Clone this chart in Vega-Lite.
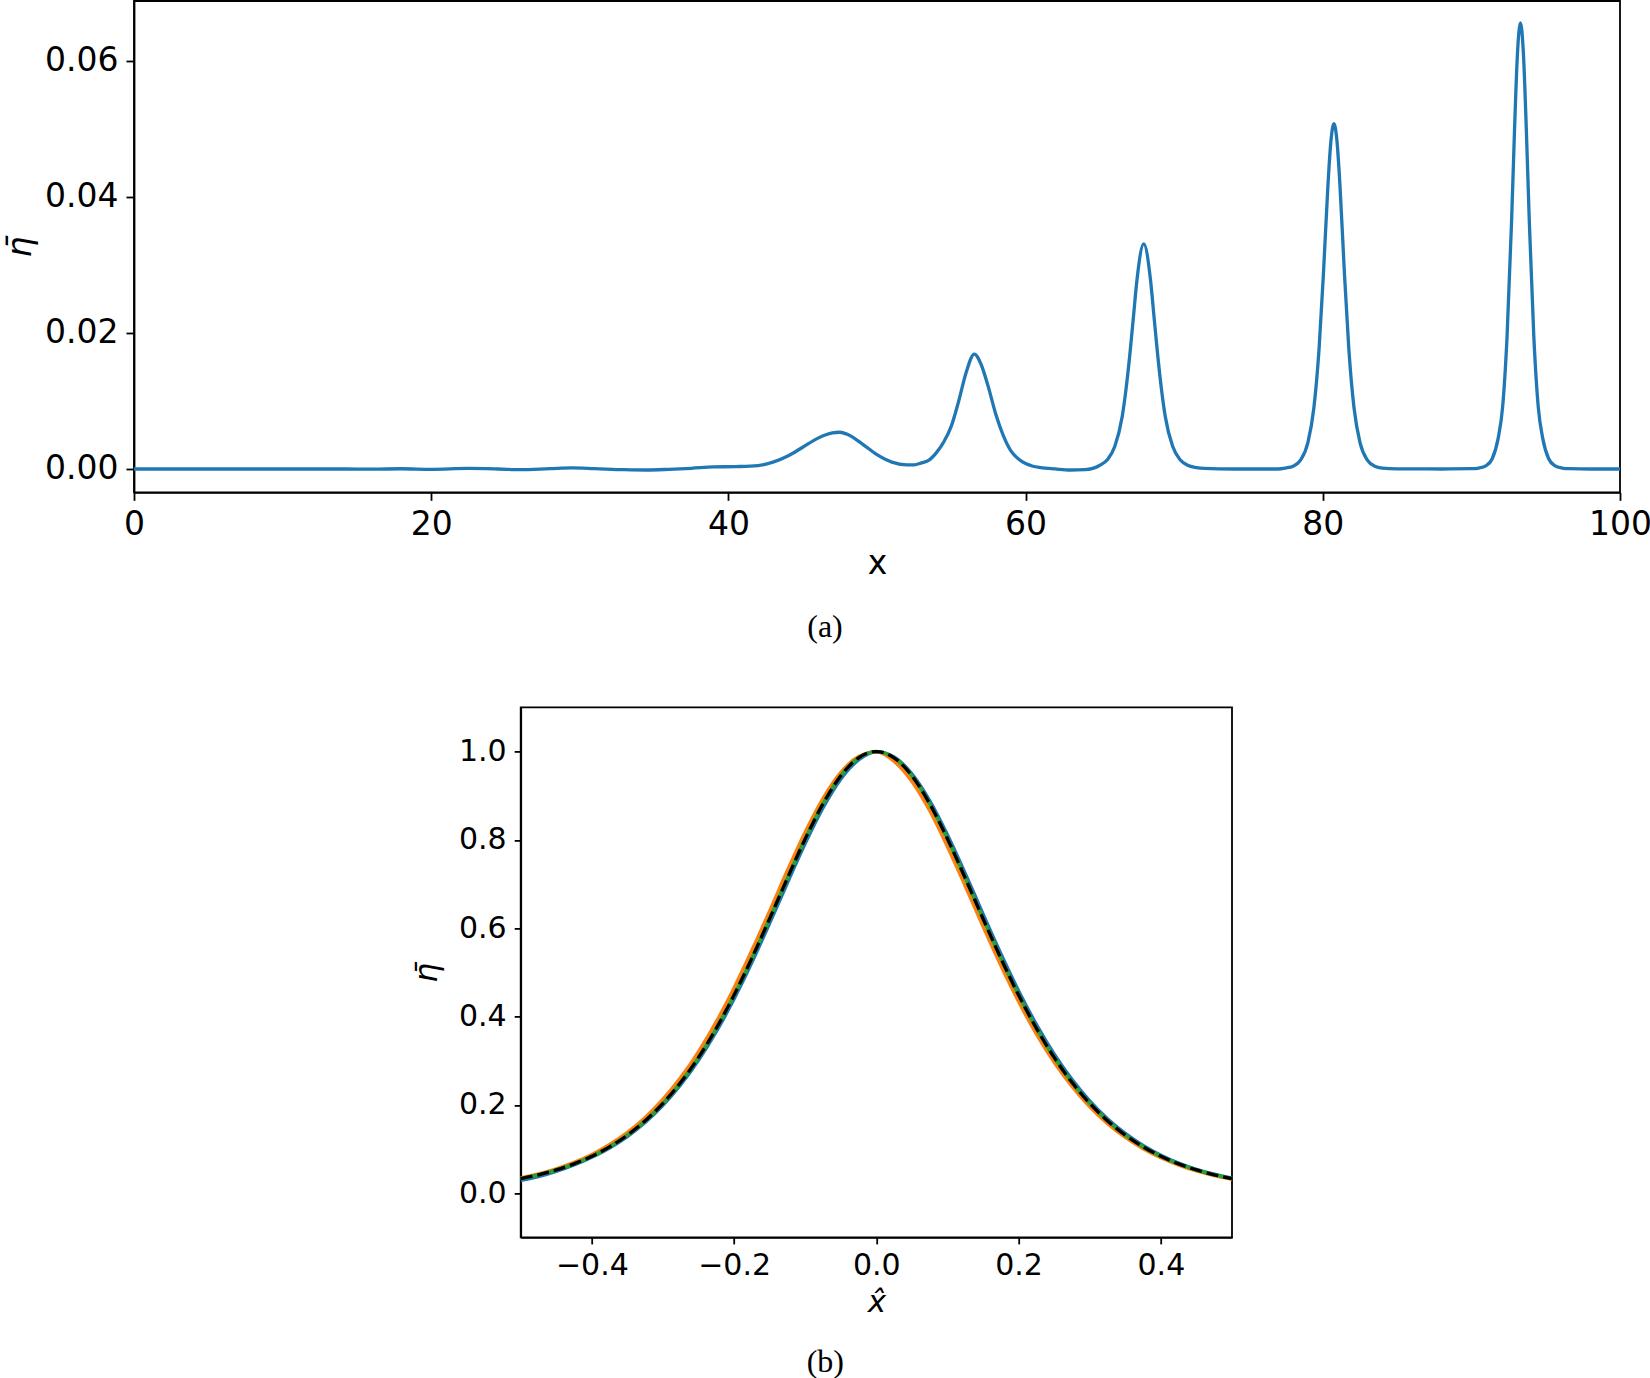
{
  "$schema": "https://vega.github.io/schema/vega-lite/v6.json",
  "background": "white",
  "padding": {"left": 3, "top": 0, "right": 0, "bottom": 0},
  "autosize": {"type": "pad"},
  "config": {
    "font": "DejaVu Sans",
    "view": {"stroke": "#000", "strokeWidth": 1.8},
    "axis": {
      "labelFont": "DejaVu Sans", "labelFontSize": 33, "labelColor": "#000", "labelFlush": false,
      "titleFont": "DejaVu Sans", "titleFontSize": 33, "titleFontWeight": "normal", "titleColor": "#000",
      "domainColor": "#000", "domainWidth": 1.8, "tickColor": "#000", "tickWidth": 1.8,
      "tickSize": 8, "labelPadding": 8, "grid": false
    },
    "title": {"font": "Liberation Serif", "fontSize": 32, "fontWeight": "normal", "color": "#000"}
  },
  "datasets": {
    "top": [
      {"x":0,"eta":0},{"x":5,"eta":0},{"x":10,"eta":0},{"x":14,"eta":0},{"x":16,"eta":-0.00003},{"x":18,"eta":0.00003},
      {"x":20,"eta":-0.00005},{"x":22.5,"eta":0.00008},{"x":24.5,"eta":0},{"x":26,"eta":-0.0001},{"x":28,"eta":0.00005},
      {"x":29.5,"eta":0.00015},{"x":31,"eta":0.00005},{"x":33,"eta":-0.0001},{"x":34.5,"eta":-0.00015},{"x":36,"eta":-0.00005},
      {"x":37.5,"eta":0.0001},{"x":39,"eta":0.0003},{"x":40.5,"eta":0.00035},{"x":42,"eta":0.0005},{"x":43,"eta":0.001},
      {"x":44,"eta":0.0019},{"x":45,"eta":0.0032},{"x":46,"eta":0.0045},{"x":47,"eta":0.0053},{"x":47.5,"eta":0.0054},
      {"x":48,"eta":0.0051},{"x":49,"eta":0.0037},{"x":50,"eta":0.0021},{"x":51,"eta":0.001},{"x":52,"eta":0.0006},
      {"x":52.5,"eta":0.0006},{"x":53,"eta":0.0009},{"x":53.5,"eta":0.0013},{"x":54,"eta":0.0024},{"x":54.5,"eta":0.004},
      {"x":55,"eta":0.0063},{"x":55.5,"eta":0.01},{"x":56,"eta":0.0142},{"x":56.55,"eta":0.0169},{"x":57,"eta":0.0154},
      {"x":57.5,"eta":0.012},{"x":58,"eta":0.008},{"x":58.5,"eta":0.0049},{"x":59,"eta":0.0027},{"x":59.5,"eta":0.0015},
      {"x":60,"eta":0.0008},{"x":60.5,"eta":0.0004},{"x":61,"eta":0.0002},{"x":62,"eta":0},{"x":63,"eta":-0.00015},
      {"x":64,"eta":-0.0001},{"x":65,"eta":0.00055},{"x":65.5,"eta":0.00135},{"x":66,"eta":0.0033},{"x":66.5,"eta":0.0077},
      {"x":66.75,"eta":0.0116},{"x":67,"eta":0.0165},{"x":67.25,"eta":0.0222},{"x":67.5,"eta":0.0279},{"x":67.95,"eta":0.0331},
      {"x":68.4,"eta":0.0279},{"x":68.65,"eta":0.0222},{"x":68.9,"eta":0.0165},{"x":69.15,"eta":0.0116},{"x":69.4,"eta":0.0077},
      {"x":69.9,"eta":0.0033},{"x":70.4,"eta":0.00135},{"x":70.9,"eta":0.00055},{"x":71.5,"eta":0.0002},{"x":72,"eta":0.00008},
      {"x":74,"eta":0},{"x":77,"eta":0},{"x":77.5,"eta":0.00014},{"x":78,"eta":0.0004},{"x":78.5,"eta":0.0013},
      {"x":79,"eta":0.0039},{"x":79.4,"eta":0.009},{"x":79.75,"eta":0.0177},{"x":80.05,"eta":0.029},{"x":80.35,"eta":0.0419},
      {"x":80.55,"eta":0.0483},{"x":80.75,"eta":0.0508},{"x":80.95,"eta":0.0483},{"x":81.15,"eta":0.0419},{"x":81.45,"eta":0.029},
      {"x":81.75,"eta":0.0177},{"x":82.1,"eta":0.009},{"x":82.5,"eta":0.0039},{"x":83,"eta":0.0013},{"x":83.5,"eta":0.0004},
      {"x":84,"eta":0.00014},{"x":85,"eta":0.00002},{"x":88,"eta":0},{"x":90,"eta":0.00004},{"x":90.5,"eta":0.00014},
      {"x":91,"eta":0.0005},{"x":91.4,"eta":0.0015},{"x":91.8,"eta":0.0045},{"x":92.1,"eta":0.0091},{"x":92.4,"eta":0.0195},
      {"x":92.7,"eta":0.0362},{"x":92.9,"eta":0.0497},{"x":93.1,"eta":0.0611},{"x":93.3,"eta":0.0656},{"x":93.5,"eta":0.0611},
      {"x":93.7,"eta":0.0497},{"x":93.9,"eta":0.0362},{"x":94.2,"eta":0.0195},{"x":94.5,"eta":0.0091},{"x":94.8,"eta":0.0045},
      {"x":95.2,"eta":0.0015},{"x":95.6,"eta":0.0005},{"x":96.1,"eta":0.00014},{"x":96.6,"eta":0.00004},{"x":98,"eta":0},{"x":100,"eta":0}
    ],
    "bottom": [
      {"s":"b","x":-0.5,"y":0.029},{"s":"b","x":-0.475,"y":0.0375},{"s":"b","x":-0.45,"y":0.0495},{"s":"b","x":-0.425,"y":0.064},
      {"s":"b","x":-0.4,"y":0.0816},{"s":"b","x":-0.375,"y":0.1025},{"s":"b","x":-0.35,"y":0.1283},{"s":"b","x":-0.325,"y":0.16},
      {"s":"b","x":-0.3,"y":0.1987},{"s":"b","x":-0.275,"y":0.2454},{"s":"b","x":-0.25,"y":0.3008},{"s":"b","x":-0.225,"y":0.3656},
      {"s":"b","x":-0.2,"y":0.4397},{"s":"b","x":-0.175,"y":0.5222},{"s":"b","x":-0.15,"y":0.611},{"s":"b","x":-0.125,"y":0.7025},
      {"s":"b","x":-0.1,"y":0.7916},{"s":"b","x":-0.075,"y":0.8722},{"s":"b","x":-0.05,"y":0.9374},{"s":"b","x":-0.025,"y":0.981},
      {"s":"b","x":0,"y":0.9995},{"s":"b","x":0.025,"y":0.9876},{"s":"b","x":0.05,"y":0.9499},{"s":"b","x":0.075,"y":0.8893},
      {"s":"b","x":0.1,"y":0.8118},{"s":"b","x":0.125,"y":0.7242},{"s":"b","x":0.15,"y":0.6327},{"s":"b","x":0.175,"y":0.543},
      {"s":"b","x":0.2,"y":0.4587},{"s":"b","x":0.225,"y":0.3825},{"s":"b","x":0.25,"y":0.3155},{"s":"b","x":0.275,"y":0.2579},
      {"s":"b","x":0.3,"y":0.2092},{"s":"b","x":0.325,"y":0.1687},{"s":"b","x":0.35,"y":0.1354},{"s":"b","x":0.375,"y":0.1082},
      {"s":"b","x":0.4,"y":0.0862},{"s":"b","x":0.425,"y":0.0686},{"s":"b","x":0.45,"y":0.0544},{"s":"b","x":0.475,"y":0.0431},
      {"s":"b","x":0.5,"y":0.0341},
      {"s":"o","x":-0.5,"y":0.03477},{"s":"o","x":-0.475,"y":0.04395},{"s":"o","x":-0.45,"y":0.05548},{"s":"o","x":-0.425,"y":0.06993},
      {"s":"o","x":-0.4,"y":0.08794},{"s":"o","x":-0.375,"y":0.11033},{"s":"o","x":-0.35,"y":0.13796},{"s":"o","x":-0.325,"y":0.17185},
      {"s":"o","x":-0.3,"y":0.21299},{"s":"o","x":-0.275,"y":0.26237},{"s":"o","x":-0.25,"y":0.32075},{"s":"o","x":-0.225,"y":0.38853},
      {"s":"o","x":-0.2,"y":0.46541},{"s":"o","x":-0.175,"y":0.55012},{"s":"o","x":-0.15,"y":0.63935},{"s":"o","x":-0.125,"y":0.73125},
      {"s":"o","x":-0.1,"y":0.81818},{"s":"o","x":-0.075,"y":0.89436},{"s":"o","x":-0.05,"y":0.95314},{"s":"o","x":-0.025,"y":0.9887},
      {"s":"o","x":0,"y":0.9993},{"s":"o","x":0.025,"y":0.97769},{"s":"o","x":0.05,"y":0.93231},{"s":"o","x":0.075,"y":0.86583},
      {"s":"o","x":0.1,"y":0.78454},{"s":"o","x":0.125,"y":0.69513},{"s":"o","x":0.15,"y":0.60381},{"s":"o","x":0.175,"y":0.51552},
      {"s":"o","x":0.2,"y":0.43367},{"s":"o","x":0.225,"y":0.36031},{"s":"o","x":0.25,"y":0.29627},{"s":"o","x":0.275,"y":0.24155},
      {"s":"o","x":0.3,"y":0.19556},{"s":"o","x":0.325,"y":0.15745},{"s":"o","x":0.35,"y":0.12618},{"s":"o","x":0.375,"y":0.10077},
      {"s":"o","x":0.4,"y":0.08023},{"s":"o","x":0.425,"y":0.06374},{"s":"o","x":0.45,"y":0.05054},{"s":"o","x":0.475,"y":0.04001},
      {"s":"o","x":0.5,"y":0.03163},
      {"s":"g","x":-0.5,"y":0.03303},{"s":"g","x":-0.475,"y":0.04176},{"s":"g","x":-0.45,"y":0.05273},{"s":"g","x":-0.425,"y":0.06649},
      {"s":"g","x":-0.4,"y":0.08367},{"s":"g","x":-0.375,"y":0.10504},{"s":"g","x":-0.35,"y":0.13147},{"s":"g","x":-0.325,"y":0.16394},
      {"s":"g","x":-0.3,"y":0.20347},{"s":"g","x":-0.275,"y":0.25107},{"s":"g","x":-0.25,"y":0.30757},{"s":"g","x":-0.225,"y":0.37349},
      {"s":"g","x":-0.2,"y":0.44871},{"s":"g","x":-0.175,"y":0.53222},{"s":"g","x":-0.15,"y":0.62171},{"s":"g","x":-0.125,"y":0.71349},
      {"s":"g","x":-0.1,"y":0.8023},{"s":"g","x":-0.075,"y":0.88171},{"s":"g","x":-0.05,"y":0.94496},{"s":"g","x":-0.025,"y":0.98587},
      {"s":"g","x":0,"y":1},{"s":"g","x":0.025,"y":0.98587},{"s":"g","x":0.05,"y":0.94496},{"s":"g","x":0.075,"y":0.88171},
      {"s":"g","x":0.1,"y":0.8023},{"s":"g","x":0.125,"y":0.71349},{"s":"g","x":0.15,"y":0.62171},{"s":"g","x":0.175,"y":0.53222},
      {"s":"g","x":0.2,"y":0.44871},{"s":"g","x":0.225,"y":0.37349},{"s":"g","x":0.25,"y":0.30757},{"s":"g","x":0.275,"y":0.25107},
      {"s":"g","x":0.3,"y":0.20347},{"s":"g","x":0.325,"y":0.16394},{"s":"g","x":0.35,"y":0.13147},{"s":"g","x":0.375,"y":0.10504},
      {"s":"g","x":0.4,"y":0.08367},{"s":"g","x":0.425,"y":0.06649},{"s":"g","x":0.45,"y":0.05273},{"s":"g","x":0.475,"y":0.04176},
      {"s":"g","x":0.5,"y":0.03303},
      {"s":"k","x":-0.5,"y":0.03303},{"s":"k","x":-0.475,"y":0.04176},{"s":"k","x":-0.45,"y":0.05273},{"s":"k","x":-0.425,"y":0.06649},
      {"s":"k","x":-0.4,"y":0.08367},{"s":"k","x":-0.375,"y":0.10504},{"s":"k","x":-0.35,"y":0.13147},{"s":"k","x":-0.325,"y":0.16394},
      {"s":"k","x":-0.3,"y":0.20347},{"s":"k","x":-0.275,"y":0.25107},{"s":"k","x":-0.25,"y":0.30757},{"s":"k","x":-0.225,"y":0.37349},
      {"s":"k","x":-0.2,"y":0.44871},{"s":"k","x":-0.175,"y":0.53222},{"s":"k","x":-0.15,"y":0.62171},{"s":"k","x":-0.125,"y":0.71349},
      {"s":"k","x":-0.1,"y":0.8023},{"s":"k","x":-0.075,"y":0.88171},{"s":"k","x":-0.05,"y":0.94496},{"s":"k","x":-0.025,"y":0.98587},
      {"s":"k","x":0,"y":1},{"s":"k","x":0.025,"y":0.98587},{"s":"k","x":0.05,"y":0.94496},{"s":"k","x":0.075,"y":0.88171},
      {"s":"k","x":0.1,"y":0.8023},{"s":"k","x":0.125,"y":0.71349},{"s":"k","x":0.15,"y":0.62171},{"s":"k","x":0.175,"y":0.53222},
      {"s":"k","x":0.2,"y":0.44871},{"s":"k","x":0.225,"y":0.37349},{"s":"k","x":0.25,"y":0.30757},{"s":"k","x":0.275,"y":0.25107},
      {"s":"k","x":0.3,"y":0.20347},{"s":"k","x":0.325,"y":0.16394},{"s":"k","x":0.35,"y":0.13147},{"s":"k","x":0.375,"y":0.10504},
      {"s":"k","x":0.4,"y":0.08367},{"s":"k","x":0.425,"y":0.06649},{"s":"k","x":0.45,"y":0.05273},{"s":"k","x":0.475,"y":0.04176},
      {"s":"k","x":0.5,"y":0.03303}
    ]
  },
  "bounds": "flush",
  "spacing": 214.4,
  "vconcat": [
    {
      "width": 1486,
      "height": 491.3,
      "data": {"name": "top"},
      "mark": {"type": "line", "color": "#1f77b4", "strokeWidth": 3.3, "interpolate": "monotone"},
      "encoding": {
        "x": {"field": "x", "type": "quantitative",
              "scale": {"domain": [0, 100], "nice": false, "zero": false},
              "axis": {"values": [0, 20, 40, 60, 80, 100], "format": "d", "title": "x", "titleY": 81, "titleBaseline": "alphabetic"}},
        "y": {"field": "eta", "type": "quantitative",
              "scale": {"domain": [-0.00343, 0.06882], "nice": false, "zero": false},
              "axis": {"values": [0, 0.02, 0.04, 0.06], "format": ".2f", "title": "η̄", "titleFontStyle": "italic",
                       "titleX": -104, "titleBaseline": "alphabetic", "titleAngle": 270}}
      },
      "title": {"text": "(a)", "orient": "bottom", "frame": "group", "anchor": "middle", "dx": -52, "offset": 32}
    },
    {
      "bounds": "flush",
      "spacing": 385.7,
      "hconcat": [
        {
          "width": 1, "height": 1,
          "view": {"stroke": null},
          "data": {"values": [{}]},
          "mark": {"type": "point", "opacity": 0},
          "encoding": {}
        },
        {
          "width": 711.3,
          "height": 530,
          "data": {"name": "bottom"},
          "encoding": {
            "x": {"field": "x", "type": "quantitative",
                  "scale": {"domain": [-0.5, 0.5], "nice": false, "zero": false},
                  "axis": {"values": [-0.4, -0.2, 0, 0.2, 0.4], "format": ".1f", "title": "x̂", "titleFontStyle": "italic",
                           "titleY": 74, "titleBaseline": "alphabetic", "titleFontSize": 31,
                           "labelFontSize": 30, "tickSize": 6.5, "labelPadding": 6.5}},
            "y": {"field": "y", "type": "quantitative",
                  "scale": {"domain": [-0.1, 1.1], "nice": false, "zero": false},
                  "axis": {"values": [0, 0.2, 0.4, 0.6, 0.8, 1.0], "format": ".1f", "title": "η̄", "titleFontStyle": "italic",
                           "titleX": -84, "titleBaseline": "alphabetic", "titleAngle": 270, "titleFontSize": 31,
                           "labelFontSize": 30, "tickSize": 6.5, "labelPadding": 8}}
          },
          "layer": [
            {"transform": [{"filter": {"field": "s", "equal": "b"}}],
             "mark": {"type": "line", "color": "#1f77b4", "strokeWidth": 3.3, "interpolate": "monotone"}},
            {"transform": [{"filter": {"field": "s", "equal": "o"}}],
             "mark": {"type": "line", "color": "#ff7f0e", "strokeWidth": 3.3, "interpolate": "monotone"}},
            {"transform": [{"filter": {"field": "s", "equal": "g"}}],
             "mark": {"type": "line", "color": "#2ca02c", "strokeWidth": 3.6, "interpolate": "monotone"}},
            {"transform": [{"filter": {"field": "s", "equal": "k"}}],
             "mark": {"type": "line", "color": "#000", "strokeWidth": 3.3, "strokeDash": [12, 5], "interpolate": "monotone"}}
          ],
          "title": {"text": "(b)", "orient": "bottom", "frame": "group", "anchor": "middle", "dx": -51, "offset": 30}
        }
      ]
    }
  ]
}
